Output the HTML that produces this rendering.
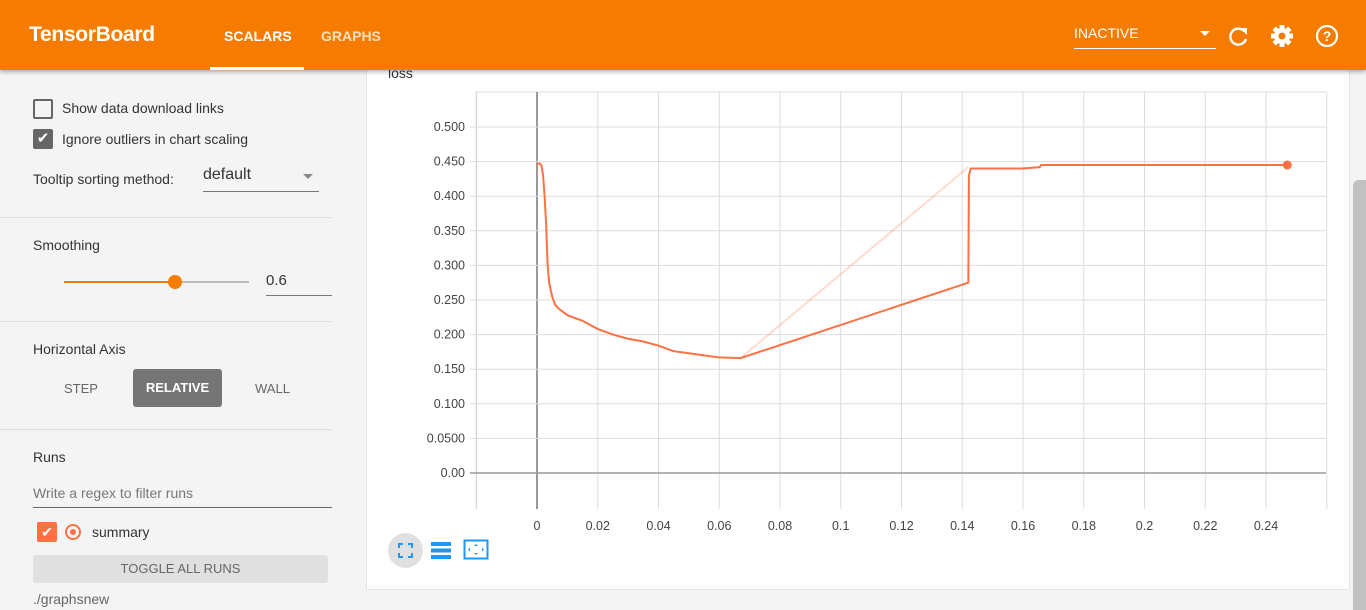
<!DOCTYPE html>
<html><head><meta charset="utf-8">
<style>
*{box-sizing:border-box}
body{margin:0;width:1366px;height:610px;overflow:hidden;background:#f4f4f4;font-family:"Liberation Sans",Roboto,sans-serif;color:#333;position:relative}
.hdr{position:absolute;left:0;top:0;width:1366px;height:70px;background:#f57c00;box-shadow:0 2px 4px rgba(0,0,0,.3);z-index:5}
.abs{position:absolute}
.side{position:absolute;left:0;top:70px;width:352px;height:540px;background:#f4f4f4}
.sep{position:absolute;left:0;width:332px;height:1px;background:#ddd}
.card{position:absolute;left:366px;top:50px;width:984px;height:540px;background:#fff;border:1px solid #e4e4e4}
</style></head><body>
<div class="hdr">
 <div class="abs" style="left:29px;top:23px;color:#fff;font-size:21px;font-weight:bold;letter-spacing:-0.3px">TensorBoard</div>
 <div class="abs" style="left:224px;top:28px;color:#fff;font-size:14px;font-weight:bold">SCALARS</div>
 <div class="abs" style="left:210px;top:67px;width:94px;height:3px;background:#fff"></div>
 <div class="abs" style="left:321px;top:28px;color:#fde0c0;font-size:14px;font-weight:bold">GRAPHS</div>
 <div class="abs" style="left:1074px;top:25px;width:142px;height:24px;border-bottom:1px solid #fff;color:#fff;font-size:14px">INACTIVE<span style="position:absolute;right:6px;top:6px;border:5px solid transparent;border-top:5px solid #fff"></span></div>
 <svg class="abs" style="left:1226px;top:23px" width="26" height="26"><path d="M18.5 8.5A8 8 0 1 0 20 16" fill="none" stroke="#fff" stroke-width="2.4"/><path d="M14 5h7v7z" fill="#fff"/></svg>
 <svg class="abs" style="left:1269px;top:23px" width="26" height="26"><g transform="translate(13 13)" fill="#fff"><circle r="8"/><g><rect x="-2.5" y="-11" width="5" height="22"/><rect x="-2.5" y="-11" width="5" height="22" transform="rotate(45)"/><rect x="-2.5" y="-11" width="5" height="22" transform="rotate(90)"/><rect x="-2.5" y="-11" width="5" height="22" transform="rotate(135)"/></g><circle r="3.5" fill="#f57c00"/></g></svg>
 <svg class="abs" style="left:1314px;top:23px" width="26" height="26"><circle cx="13" cy="13" r="10" fill="none" stroke="#fff" stroke-width="2.2"/><text x="13" y="18" text-anchor="middle" fill="#fff" font-size="14" font-weight="bold" font-family="Liberation Sans">?</text></svg>
</div>

<div class="side">
 <div class="abs" style="left:33px;top:29px;width:20px;height:20px;border:2px solid #666;border-radius:2px"></div>
 <div class="abs" style="left:62px;top:30px;font-size:14px">Show data download links</div>
 <div class="abs" style="left:33px;top:59px;width:20px;height:20px;background:#666;border-radius:2px;color:#fff;font-size:15px;text-align:center;line-height:20px">✔</div>
 <div class="abs" style="left:62px;top:61px;font-size:14px">Ignore outliers in chart scaling</div>
 <div class="abs" style="left:33px;top:101px;font-size:14px">Tooltip sorting method:</div>
 <div class="abs" style="left:203px;top:96px;width:116px;height:26px;border-bottom:1px solid #777;font-size:16px">default<span style="position:absolute;right:6px;top:8px;border:5px solid transparent;border-top:5px solid #888"></span></div>
 <div class="sep" style="top:147px"></div>
 <div class="abs" style="left:33px;top:167px;font-size:14px">Smoothing</div>
 <div class="abs" style="left:64px;top:211px;width:185px;height:2px;background:#bbb"><div style="width:110px;height:2px;background:#f57c00"></div><div style="position:absolute;left:104px;top:-6px;width:14px;height:14px;border-radius:50%;background:#f57c00"></div></div>
 <div class="abs" style="left:266px;top:202px;width:66px;height:24px;border-bottom:1px solid #777;font-size:15px">0.6</div>
 <div class="sep" style="top:251px"></div>
 <div class="abs" style="left:33px;top:271px;font-size:14px">Horizontal Axis</div>
 <div class="abs" style="left:64px;top:311px;font-size:13px;color:#666">STEP</div>
 <div class="abs" style="left:133px;top:299px;width:89px;height:38px;background:#757575;border-radius:3px;color:#fff;font-size:13px;font-weight:bold;text-align:center;line-height:38px">RELATIVE</div>
 <div class="abs" style="left:255px;top:311px;font-size:13px;color:#666">WALL</div>
 <div class="sep" style="top:359px"></div>
 <div class="abs" style="left:33px;top:379px;font-size:14px">Runs</div>
 <div class="abs" style="left:33px;top:412px;width:299px;height:26px;border-bottom:1px solid #666;font-size:14px;color:#777;padding-top:3px">Write a regex to filter runs</div>
 <div class="abs" style="left:37px;top:452px;width:20px;height:20px;background:#ff7043;border-radius:2px;color:#fff;text-align:center;line-height:20px;font-size:14px">✔</div>
 <div class="abs" style="left:65px;top:454px;width:16px;height:16px;border:2px solid #ff7043;border-radius:50%"><div style="margin:3px;width:6px;height:6px;border-radius:50%;background:#ff7043"></div></div>
 <div class="abs" style="left:92px;top:454px;font-size:14px">summary</div>
 <div class="abs" style="left:33px;top:485px;width:295px;height:28px;background:#e0e0e0;border-radius:3px;color:#666;font-size:13px;text-align:center;line-height:28px">TOGGLE ALL RUNS</div>
 <div class="abs" style="left:33px;top:521px;font-size:14px;color:#666">./graphsnew</div>
</div>

<div class="card"></div>
<div class="abs" style="left:388px;top:65px;font-size:14px;color:#333;z-index:4">loss</div>
<svg id="chart" class="abs" style="left:0;top:0" width="1366" height="610"></svg>
<div class="abs" style="left:388px;top:533px;width:35px;height:35px;border-radius:50%;background:#e0e0e0">
 <svg width="35" height="35"><path d="M11 15v-4h4M20 11h4v4M24 20v4h-4M15 24h-4v-4" fill="none" stroke="#2196f3" stroke-width="2"/></svg></div>
<svg class="abs" style="left:430px;top:541px" width="22" height="20"><rect x="1" y="1" width="20" height="4" fill="#2196f3"/><rect x="1" y="7.5" width="20" height="4" fill="#2196f3"/><rect x="1" y="14" width="20" height="4" fill="#2196f3"/></svg>
<svg class="abs" style="left:463px;top:539px" width="26" height="22"><rect x="1.5" y="1.5" width="23" height="18" fill="none" stroke="#2196f3" stroke-width="2"/><path d="M13 5l-2 2h4zM13 16l-2-2h4zM5 10.5l2-2v4zM21 10.5l-2-2v4z" fill="#2196f3"/></svg>
<div class="abs" style="left:1353px;top:180px;width:13px;height:430px;background:#c1c1c1;border-radius:6px 0 0 0"></div>

<script>
const xTicks=[0,0.02,0.04,0.06,0.08,0.1,0.12,0.14,0.16,0.18,0.2,0.22,0.24];
const xTickLabels=["0","0.02","0.04","0.06","0.08","0.1","0.12","0.14","0.16","0.18","0.2","0.22","0.24"];
const yTicks=[0,0.05,0.1,0.15,0.2,0.25,0.3,0.35,0.4,0.45,0.5];
const yTickLabels=["0.00","0.0500","0.100","0.150","0.200","0.250","0.300","0.350","0.400","0.450","0.500"];
const smoothX=[0,0.001,0.0015,0.002,0.0025,0.003,0.0035,0.004,0.005,0.006,0.007,0.01,0.015,0.02,0.025,0.03,0.035,0.04,0.045,0.05,0.055,0.06,0.067,0.142,0.1422,0.1428,0.16,0.1655,0.166,0.2,0.247];
const smoothY=[0.447,0.447,0.444,0.43,0.40,0.36,0.30,0.275,0.255,0.243,0.238,0.228,0.22,0.208,0.2,0.194,0.19,0.184,0.176,0.173,0.17,0.167,0.166,0.275,0.43,0.44,0.44,0.442,0.445,0.445,0.445];
const rawX=[0.067,0.142];
const rawY=[0.166,0.442];

const X0=537,XS=(1266-537)/0.24,Y0=473,YS=(473-127)/0.5;
const sx=v=>X0+v*XS, sy=v=>Y0-v*YS;
const svg=document.getElementById('chart');const NS='http://www.w3.org/2000/svg';
function mk(t,a){const e=document.createElementNS(NS,t);for(const k in a)e.setAttribute(k,a[k]);svg.appendChild(e);return e;}
const L=476,R=1326,T=92,B=509;
mk('line',{x1:L,y1:T,x2:R,y2:T,stroke:'#ddd','stroke-width':1});
[-0.02,...xTicks,0.26].forEach(v=>{const l=mk('line',{x1:sx(v),y1:T,x2:sx(v),y2:B,stroke:v===0?'#999':(v===-0.02?'#ccc':'#ddd'),'stroke-width':v===0?2:1});

});
yTicks.forEach((v,i)=>{const l=mk('line',{x1:L-6,y1:sy(v),x2:R,y2:sy(v),stroke:v===0?'#999':'#ddd','stroke-width':v===0?1.5:1});


const t=mk('text',{x:465,y:sy(v)+4,'text-anchor':'end','font-size':12.5,fill:'#444','font-family':'Liberation Sans'});t.textContent=yTickLabels[i];

});
xTicks.forEach((v,i)=>{const t=mk('text',{x:sx(v),y:530,'text-anchor':'middle','font-size':12.5,fill:'#444','font-family':'Liberation Sans'});t.textContent=xTickLabels[i];

});
const rp=mk('polyline',{points:rawX.map((x,i)=>sx(x)+','+sy(rawY[i])).join(' '),fill:'none',stroke:'#ff7043','stroke-opacity':0.25,'stroke-width':2});


const sp=mk('polyline',{points:smoothX.map((x,i)=>sx(x)+','+sy(smoothY[i])).join(' '),fill:'none',stroke:'#ff7043','stroke-width':2});


const n=smoothX.length-1;
const dot=mk('circle',{cx:sx(smoothX[n]),cy:sy(smoothY[n]),r:4.5,fill:'#ff7043'});


</script>
</body></html>
